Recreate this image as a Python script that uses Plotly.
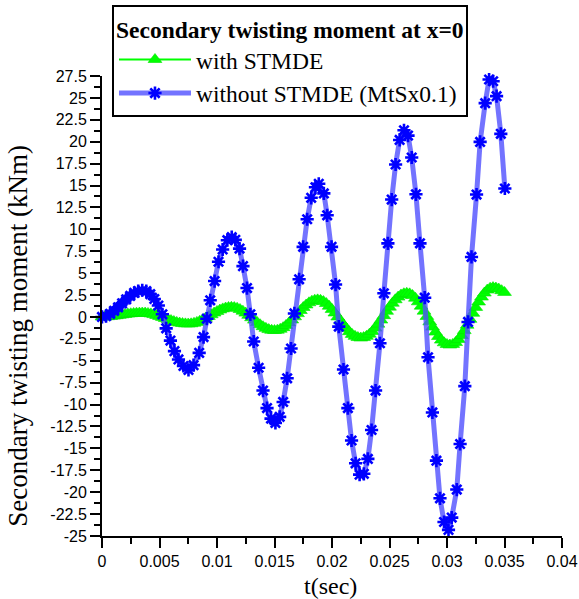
import plotly.graph_objects as go

# Secondary twisting moment at x=0 -- time histories

# without STMDE (values scaled by 0.1)
t_without = [
    0.00000, 0.00035, 0.00070, 0.00105, 0.00140, 0.00175, 0.00210, 0.00245,
    0.00280, 0.00315, 0.00350, 0.00385, 0.00420, 0.00455, 0.00490, 0.00525,
    0.00558, 0.00595, 0.00630, 0.00665, 0.00708, 0.00752, 0.00796, 0.00845,
    0.00883, 0.00912, 0.00941, 0.00979, 0.01013, 0.01049, 0.01090, 0.01128,
    0.01159, 0.01196, 0.01226, 0.01261, 0.01290, 0.01319, 0.01362, 0.01400,
    0.01435, 0.01470, 0.01508, 0.01545, 0.01575, 0.01610, 0.01644, 0.01673,
    0.01714, 0.01749, 0.01784, 0.01819, 0.01856, 0.01885, 0.01929, 0.01958,
    0.01996, 0.02031, 0.02059, 0.02100, 0.02138, 0.02170, 0.02205, 0.02240,
    0.02277, 0.02312, 0.02344, 0.02379, 0.02417, 0.02451, 0.02486, 0.02519,
    0.02553, 0.02588, 0.02626, 0.02661, 0.02693, 0.02730, 0.02765, 0.02806,
    0.02835, 0.02873, 0.02908, 0.02939, 0.02974, 0.03013, 0.03041, 0.03085,
    0.03114, 0.03155, 0.03183, 0.03213, 0.03257, 0.03288, 0.03332, 0.03366,
    0.03401, 0.03431, 0.03468, 0.03503,
]
m_without = [
    0.00, 0.10, 0.35, 0.70, 1.10, 1.55, 2.00, 2.40,
    2.75, 2.95, 3.05, 2.95, 2.60, 2.05, 1.30, 0.30,
    -1.30, -2.70, -3.90, -4.85, -5.60, -6.05, -5.50, -4.10,
    -2.30, -0.20, 1.90, 4.10, 6.30, 7.70, 8.76, 9.10,
    8.80, 7.80, 5.80, 3.30, 0.30, -2.80, -5.80, -8.40,
    -10.40, -11.60, -12.10, -11.40, -9.70, -7.00, -3.60, 0.40,
    4.30, 8.00, 11.15, 13.60, 14.80, 15.20, 14.10, 11.60,
    8.00, 3.70, -1.10, -6.00, -10.40, -14.10, -16.70, -18.00,
    -17.90, -16.20, -12.90, -8.40, -3.00, 2.70, 8.40, 13.40,
    17.40, 20.20, 21.30, 20.70, 18.20, 14.00, 8.40, 2.20,
    -4.60, -10.90, -16.40, -20.70, -23.40, -24.30, -22.90, -19.70,
    -14.50, -7.90, -0.57, 6.85, 13.97, 19.98, 24.40, 27.10,
    26.90, 25.20, 20.90, 14.66,
]

# with STMDE
t_with = [
    0.00000, 0.00025, 0.00050, 0.00075, 0.00100, 0.00125, 0.00150, 0.00175,
    0.00200, 0.00225, 0.00250, 0.00275, 0.00300, 0.00325, 0.00350, 0.00375,
    0.00400, 0.00425, 0.00450, 0.00475, 0.00500, 0.00525, 0.00550, 0.00575,
    0.00600, 0.00625, 0.00650, 0.00675, 0.00700, 0.00725, 0.00750, 0.00775,
    0.00800, 0.00825, 0.00850, 0.00875, 0.00900, 0.00925, 0.00950, 0.00975,
    0.01000, 0.01025, 0.01050, 0.01075, 0.01100, 0.01125, 0.01150, 0.01175,
    0.01200, 0.01225, 0.01250, 0.01275, 0.01300, 0.01325, 0.01350, 0.01375,
    0.01400, 0.01425, 0.01450, 0.01475, 0.01500, 0.01525, 0.01550, 0.01575,
    0.01600, 0.01625, 0.01650, 0.01675, 0.01700, 0.01725, 0.01750, 0.01775,
    0.01800, 0.01825, 0.01850, 0.01875, 0.01900, 0.01925, 0.01950, 0.01975,
    0.02000, 0.02025, 0.02050, 0.02075, 0.02100, 0.02125, 0.02150, 0.02175,
    0.02200, 0.02225, 0.02250, 0.02275, 0.02300, 0.02325, 0.02350, 0.02375,
    0.02400, 0.02425, 0.02450, 0.02475, 0.02500, 0.02525, 0.02550, 0.02575,
    0.02600, 0.02625, 0.02650, 0.02675, 0.02700, 0.02725, 0.02750, 0.02775,
    0.02800, 0.02825, 0.02850, 0.02875, 0.02900, 0.02925, 0.02950, 0.02975,
    0.03000, 0.03025, 0.03050, 0.03075, 0.03100, 0.03125, 0.03150, 0.03175,
    0.03200, 0.03225, 0.03250, 0.03275, 0.03300, 0.03325, 0.03350, 0.03375,
    0.03400, 0.03425, 0.03450, 0.03475, 0.03500,
]
m_with = [
    0.00, 0.01, 0.03, 0.06, 0.10, 0.14, 0.19, 0.24, 0.29, 0.33, 0.37, 0.40,
    0.43, 0.44, 0.45,
    0.44, 0.40, 0.35, 0.27, 0.17, 0.06, -0.05, -0.18, -0.30, -0.41, -0.52,
    -0.62, -0.70, -0.75, -0.79, -0.80,
    -0.78, -0.72, -0.62, -0.49, -0.33, -0.15, 0.05, 0.25, 0.45, 0.63, 0.79,
    0.92, 1.02, 1.08, 1.10,
    1.07, 0.99, 0.85, 0.66, 0.44, 0.19, -0.09, -0.36, -0.64, -0.89, -1.11,
    -1.30, -1.44, -1.52, -1.55,
    -1.51, -1.40, -1.22, -0.97, -0.68, -0.34, 0.02, 0.38, 0.74, 1.08, 1.37,
    1.62, 1.80, 1.91, 1.95,
    1.90, 1.76, 1.54, 1.23, 0.86, 0.45, 0.00, -0.45, -0.90, -1.31, -1.68,
    -1.99, -2.21, -2.35, -2.40,
    -2.35, -2.21, -1.97, -1.66, -1.27, -0.82, -0.35, 0.15, 0.65, 1.12, 1.57,
    1.96, 2.27, 2.51, 2.65, 2.70,
    2.64, 2.45, 2.14, 1.73, 1.23, 0.66, 0.06, -0.56, -1.16, -1.73, -2.23,
    -2.64, -2.95, -3.14, -3.20,
    -3.13, -2.92, -2.58, -2.12, -1.56, -0.94, -0.27, 0.42, 1.09, 1.71, 2.27,
    2.73, 3.07, 3.28, 3.35,
    3.30, 3.18, 3.00, 2.80,
]

x_ticks = [0, 0.005, 0.01, 0.015, 0.02, 0.025, 0.03, 0.035, 0.04]
x_ticktext = ["0", "0.005", "0.01", "0.015", "0.02", "0.025", "0.03", "0.035", "0.04"]
y_ticks = [27.5, 25, 22.5, 20, 17.5, 15, 12.5, 10, 7.5, 5, 2.5, 0,
           -2.5, -5, -7.5, -10, -12.5, -15, -17.5, -20, -22.5, -25]
y_ticktext = ["27.5", "25", "22.5", "20", "17.5", "15", "12.5", "10", "7.5", "5", "2.5", "0",
              "-2.5", "-5", "-7.5", "-10", "-12.5", "-15", "-17.5", "-20", "-22.5", "-25"]

SERIF = "Liberation Serif"
SANS = "Liberation Sans"

fig = go.Figure()
fig.add_trace(go.Scatter(
    x=t_with, y=m_with, mode="lines+markers", name="with STMDE",
    line=dict(color="#00ff00", width=2),
    marker=dict(symbol="triangle-up", size=12, color="#00ff00",
                line=dict(color="#00e600", width=0.6)),
    cliponaxis=False,
))
fig.add_trace(go.Scatter(
    x=t_without, y=m_without, mode="lines+markers",
    name="without STMDE (MtSx0.1)",
    line=dict(color="rgba(80,80,255,0.8)", width=5),
    marker=dict(symbol="asterisk-open", size=11, color="#0000ff",
                line=dict(color="#0000ff", width=2.6)),
    cliponaxis=False,
))

axis_common = dict(
    showline=True, linecolor="black", linewidth=2, showgrid=False,
    zeroline=False, ticks="outside", tickcolor="black", tickwidth=2,
    ticklen=10, tickfont=dict(family=SANS, size=16, color="black"),
    mirror=False,
)
fig.update_xaxes(
    range=[0, 0.04], tickvals=x_ticks, ticktext=x_ticktext,
    minor=dict(ticks="outside", dtick=0.0025, tick0=0, ticklen=6,
               tickwidth=2, tickcolor="black"),
    **axis_common,
)
fig.update_yaxes(
    range=[-25, 27.5], tickvals=y_ticks, ticktext=y_ticktext,
    minor=dict(ticks="outside", dtick=1.25, tick0=0, ticklen=6,
               tickwidth=2, tickcolor="black"),
    **axis_common,
)

fig.add_annotation(
    text="Secondary twisting moment (kNm)", textangle=-90,
    xref="paper", yref="paper", x=-0.183, y=0.435,
    xanchor="center", yanchor="middle", showarrow=False,
    font=dict(family=SERIF, size=27, color="black"),
)
fig.add_annotation(
    text="t(sec)", xref="paper", yref="paper", x=0.496, y=-0.108,
    xanchor="center", yanchor="middle", showarrow=False,
    font=dict(family=SERIF, size=24, color="black"),
)

fig.update_layout(
    width=579, height=599,
    margin=dict(l=102, r=17, t=76, b=63, autoexpand=False),
    paper_bgcolor="white", plot_bgcolor="white",
    showlegend=True,
    legend=dict(
        x=0.0217, y=1.154, xanchor="left", yanchor="top",
        bgcolor="white", bordercolor="black", borderwidth=2,
        font=dict(family=SERIF, size=23.5, color="black"),
        title=dict(text="<b>Secondary twisting moment at x=0</b>",
                   font=dict(family=SERIF, size=23.5, color="black")),
        itemwidth=72, tracegroupgap=0,
    ),
)

fig.write_html("out.html")
